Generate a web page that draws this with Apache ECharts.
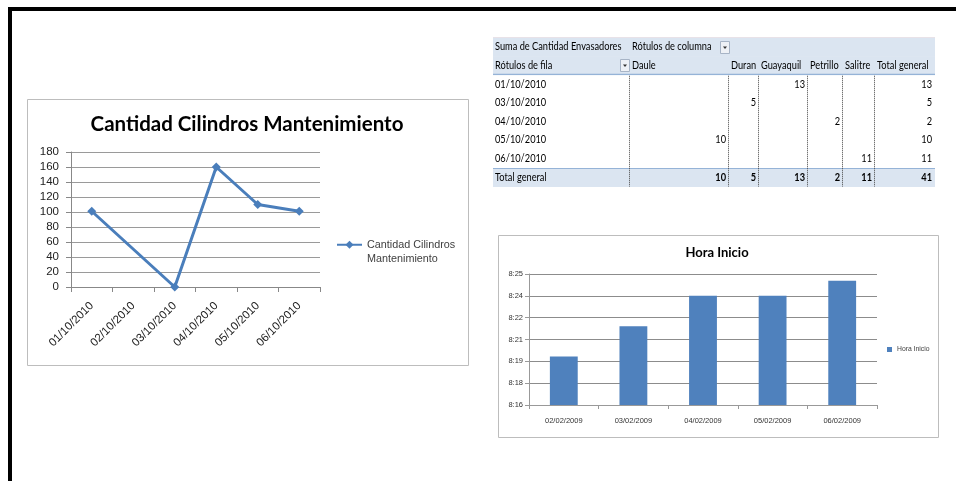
<!DOCTYPE html>
<html><head><meta charset="utf-8">
<script src="https://cdn.jsdelivr.net/npm/echarts@6/dist/echarts.min.js"></script>
<style>html,body{margin:0;padding:0;background:#fff}#c{width:956px;height:481px}</style>
</head><body><div id="c"></div>
<script>
// ---- Line chart data ----
const lineTitle = 'Cantidad Cilindros Mantenimiento';
const lineSeriesName = 'Cantidad Cilindros Mantenimiento';
const lineDates = ['01/10/2010','02/10/2010','03/10/2010','04/10/2010','05/10/2010','06/10/2010'];
const lineValues = [101, null, 0, 160, 110, 101];

// ---- Pivot table data ----
const pivotCorner = 'Suma de Cantidad Envasadores';
const pivotColHeader = 'Rótulos de columna';
const pivotRowHeader = 'Rótulos de fila';
const pivotTotalLabel = 'Total general';
const pivotCities = ['Daule','Duran','Guayaquil','Petrillo','Salitre'];
const pivotDates = ['01/10/2010','03/10/2010','04/10/2010','05/10/2010','06/10/2010'];
const daule     = [null, null, null, 10, null];
const duran     = [null, 5, null, null, null];
const guayaquil = [13, null, null, null, null];
const petrillo  = [null, null, 2, null, null];
const salitre   = [null, null, null, null, 11];
const rowTotals = [13, 5, 2, 10, 11];
const colTotals = [10, 5, 13, 2, 11];
const grandTotal = 41;

// ---- Bar chart data ----
const barTitle = 'Hora Inicio';
const barSeriesName = 'Hora Inicio';
const barDates = ['02/02/2009','03/02/2009','04/02/2009','05/02/2009','06/02/2009'];
const barTimes = ['8:20:00','8:22:00','8:24:00','8:24:00','8:25:00'];

// ---- layout (table column edges, in table units) ----
const colEdges = [0, 137, 236, 266, 315, 350, 382, 442];
const iconSpots = [[227, 0], [127, 1]];

// helpers
const DAY_K = 86.4; // seconds per thousandth of a day
function timeToK(t){ const p=t.split(':').map(Number); return (p[0]*3600+p[1]*60+(p[2]||0))/DAY_K; }
function kToLabel(v){ const s=Math.round(v*DAY_K*1000)/1000; const m=Math.floor(s/60); const h=Math.floor(m/60); const mm=m%60; return h+':'+(mm<10?'0':'')+mm; }

// build table cells
const cityCols = [daule, duran, guayaquil, petrillo, salitre];
const cells = [];
cells.push({c:0,r:0,text:pivotCorner,align:'left',bold:false});
cells.push({c:1,r:0,text:pivotColHeader,align:'left',bold:false});
cells.push({c:0,r:1,text:pivotRowHeader,align:'left',bold:false});
pivotCities.forEach((n,i)=>cells.push({c:i+1,r:1,text:n,align:'left',bold:false}));
cells.push({c:6,r:1,text:pivotTotalLabel,align:'left',bold:false});
pivotDates.forEach((d,ri)=>{
  cells.push({c:0,r:ri+2,text:d,align:'left',bold:false});
  cityCols.forEach((col,ci)=>{ if(col[ri]!=null) cells.push({c:ci+1,r:ri+2,text:String(col[ri]),align:'right',bold:false}); });
  cells.push({c:6,r:ri+2,text:String(rowTotals[ri]),align:'right',bold:false});
});
cells.push({c:0,r:7,text:pivotTotalLabel,align:'left',bold:false});
colTotals.forEach((v,ci)=>cells.push({c:ci+1,r:7,text:String(v),align:'right',bold:true}));
cells.push({c:6,r:7,text:String(grandTotal),align:'right',bold:true});
const tableRows = [0,1,2,3,4,5,6,7];
const TF = 'Lato, "Open Sans", sans-serif';
const AF = '"Liberation Sans", Arial, sans-serif';

const chart = echarts.init(document.getElementById('c'), null, {renderer:'canvas'});
const gridColor = '#9a9a9a';
chart.setOption({
  animation:false,
  backgroundColor:'#ffffff',
  graphic:[
    {type:'rect', shape:{x:8,y:7,width:948,height:4}, style:{fill:'#000'}},
    {type:'rect', shape:{x:8,y:7,width:4,height:474}, style:{fill:'#000'}},
    {type:'rect', shape:{x:27.5,y:99.5,width:441,height:266}, style:{fill:'none',stroke:'#bdbdbd',lineWidth:1}},
    {type:'rect', shape:{x:498.5,y:235.5,width:440,height:202}, style:{fill:'none',stroke:'#bdbdbd',lineWidth:1}}
  ],
  title:[
    {text:lineTitle, left:247, top:114, padding:0, textAlign:'center',
     textStyle:{fontFamily:TF, fontWeight:'bold', fontSize:20.5, color:'#000'}},
    {text:barTitle, left:717, top:246, padding:0, textAlign:'center',
     textStyle:{fontFamily:TF, fontWeight:'bold', fontSize:13, color:'#000'}}
  ],
  legend:[
    {data:[lineSeriesName], left:336, top:223, padding:0, itemWidth:25, itemHeight:10,
     formatter:()=> '\u00a0\nCantidad Cilindros\nMantenimiento',
     textStyle:{fontFamily:AF, fontSize:10.8, color:'#404040', lineHeight:14.5}},
    {data:[barSeriesName], left:887, top:346, padding:0, itemWidth:5, itemHeight:5, icon:'rect',
     textStyle:{fontFamily:AF, fontSize:6.8, color:'#404040'}}
  ],
  grid:[
    {left:71, top:152, width:249, height:135},
    {left:493, top:37.5, width:442, height:149},
    {left:529, top:274, width:348, height:131}
  ],
  xAxis:[
    {type:'category', gridIndex:0, data:lineDates, boundaryGap:true,
     axisLine:{lineStyle:{color:'#888'}}, axisTick:{show:true, length:5, lineStyle:{color:'#888'}},
     axisLabel:{rotate:45, margin:17, interval:0, fontFamily:AF, fontSize:11.5, color:'#222'}},
    {type:'value', gridIndex:1, min:0, max:442, show:false},
    {type:'category', gridIndex:2, data:barDates, boundaryGap:true,
     axisLine:{lineStyle:{color:'#999'}}, axisTick:{show:true, length:4, lineStyle:{color:'#999'}},
     axisLabel:{margin:12, interval:0, fontFamily:AF, fontSize:7.5, color:'#333'}}
  ],
  yAxis:[
    {type:'value', gridIndex:0, min:0, max:180, interval:20,
     axisLine:{show:true, lineStyle:{color:'#888'}}, axisTick:{show:true, length:5, lineStyle:{color:'#888'}},
     splitLine:{lineStyle:{color:gridColor}},
     axisLabel:{margin:12, fontFamily:AF, fontSize:11.5, color:'#222'}},
    {type:'category', gridIndex:1, data:tableRows, inverse:true, show:false},
    {type:'value', gridIndex:2, min:345, max:351, interval:1,
     axisLine:{show:true, lineStyle:{color:'#999'}}, axisTick:{show:true, length:4, lineStyle:{color:'#999'}},
     splitLine:{lineStyle:{color:'#8c8c8c'}},
     axisLabel:{margin:6, formatter:kToLabel, fontFamily:AF, fontSize:7.5, color:'#333'}}
  ],
  series:[
    {name:lineSeriesName, type:'line', xAxisIndex:0, yAxisIndex:0, data:lineValues, connectNulls:true,
     symbol:'diamond', symbolSize:9, lineStyle:{color:'#4a7ebb', width:3}, itemStyle:{color:'#4a7ebb'}, z:3},
    // table bands
    {type:'custom', xAxisIndex:1, yAxisIndex:1, silent:true, z:1,
     data:[[0,0],[0,1],[0,7]],
     renderItem:(params, api)=>{
       const r = api.value(1);
       const a = api.coord([0, r]); const b = api.coord([442, r]);
       const h = api.size([0,1])[1];
       const els = [{type:'rect', shape:{x:a[0], y:a[1]-h/2, width:b[0]-a[0], height:h+0.5}, style:{fill:'#dbe5f1'}}];
       if (r===1) els.push({type:'rect', shape:{x:a[0], y:a[1]+h/2-1, width:b[0]-a[0], height:1.2}, style:{fill:'#95b3d7'}});
       if (r===7) els.push({type:'rect', shape:{x:a[0], y:a[1]-h/2, width:b[0]-a[0], height:1.2}, style:{fill:'#95b3d7'}});
       if (r===0) els.push({type:'rect', shape:{x:a[0], y:a[1]-h/2-0.5, width:b[0]-a[0], height:1}, style:{fill:'#e8e2e8'}});
       return {type:'group', children:els};
     }},
    // table separators
    {type:'custom', xAxisIndex:1, yAxisIndex:1, silent:true, z:2,
     data:colEdges.slice(1,7).map(x=>[x,2]),
     renderItem:(params, api)=>{
       const x = api.value(0);
       const h = api.size([0,1])[1];
       const a = api.coord([x, 2]); const b = api.coord([x, 7]);
       const px = Math.round(a[0]) - 0.5;
       return {type:'line', shape:{x1:px, y1:a[1]-h/2+1, x2:px, y2:b[1]+h/2}, style:{stroke:'#444', lineWidth:1, lineDash:[1,1]}};
     }},
    // dropdown icons
    {type:'custom', xAxisIndex:1, yAxisIndex:1, silent:true, z:3,
     data:iconSpots,
     renderItem:(params, api)=>{
       const p = api.coord([api.value(0), api.value(1)]);
       const x = Math.round(p[0]) + 0.5, y = Math.round(p[1]) - 6 + 0.5;
       return {type:'group', children:[
         {type:'rect', shape:{x:x, y:y, width:9, height:12}, style:{fill:'#eef1f6', stroke:'#a7b4c6', lineWidth:1}},
         {type:'polygon', shape:{points:[[x+2.5,y+5],[x+6.5,y+5],[x+4.5,y+7.5]]}, style:{fill:'#333'}}
       ]};
     }},
    // table texts
    {type:'custom', xAxisIndex:1, yAxisIndex:1, silent:true, z:4,
     data:cells.map(c=>[colEdges[c.c], c.r]),
     renderItem:(params, api)=>{
       const cell = cells[params.dataIndex];
       const p0 = api.coord([colEdges[cell.c], cell.r]);
       const p1 = api.coord([colEdges[cell.c+1], cell.r]);
       const right = cell.align==='right';
       return {type:'text', x: right ? p1[0]-3 : p0[0]+2, y:p0[1], scaleX:0.84,
         style:{text:cell.text, x:0, y:0,
         align: right?'right':'left', verticalAlign:'middle', fill:'#000',
         fontSize:11, fontFamily:TF, fontWeight: cell.bold?'bold':'normal'}};
     }},
    {name:barSeriesName, type:'bar', xAxisIndex:2, yAxisIndex:2, data:barTimes.map(timeToK),
     barWidth:'40%', itemStyle:{color:'#4f81bd'}}
  ]
});
</script></body></html>
